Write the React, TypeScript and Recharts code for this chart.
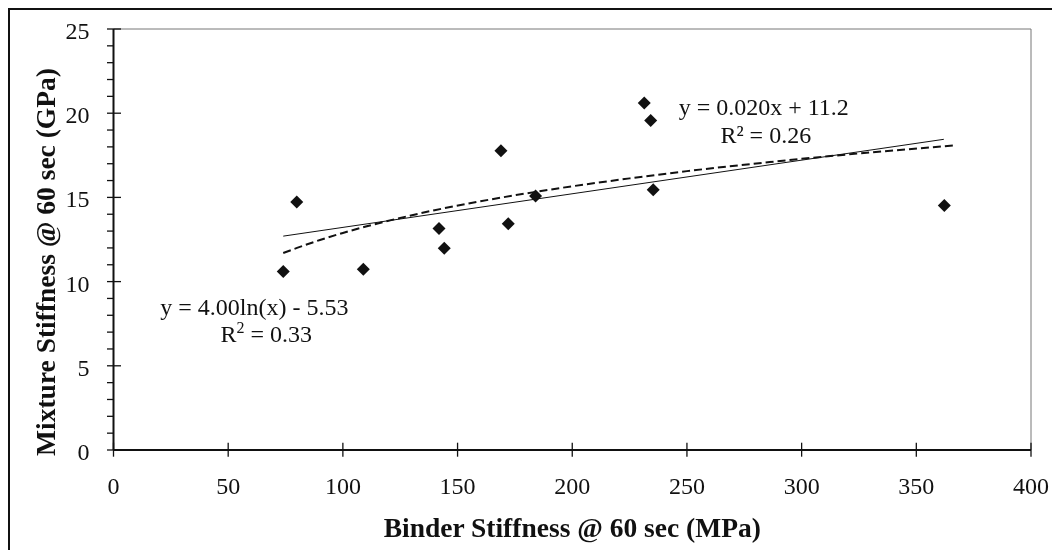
import React from "react";
import {
  ComposedChart,
  Scatter,
  Line,
  XAxis,
  YAxis,
  ReferenceLine,
  ReferenceDot,
  Label,
} from "recharts";

const FONT = '"Liberation Serif", "Times New Roman", serif';

// binder stiffness (MPa) vs mixture stiffness (GPa)
const BINDER = [74.0, 79.9, 108.9, 141.9, 144.2, 168.9, 172.1, 184.0, 231.4, 234.2, 235.3, 362.2];
const MIXTURE = [10.6, 14.72, 10.74, 13.15, 11.98, 17.77, 13.43, 15.09, 20.6, 19.57, 15.45, 14.52];

// linear trend end points
const LIN_X = [74, 362];
const LIN_Y = [12.7, 18.45];

// log trend, points
const LOG_X = [74, 80, 90, 100, 110, 125, 140, 160, 180, 200, 225, 250, 275, 300, 330, 366];
const LOG_Y = [11.7, 12.0, 12.47, 12.89, 13.27, 13.78, 14.24, 14.77, 15.24, 15.66, 16.13, 16.56, 16.94, 17.29, 17.67, 18.08];

const X_TICKS = [0, 50, 100, 150, 200, 250, 300, 350, 400];
const Y_TICKS = [0, 1, 2, 3, 4, 5, 6, 7, 8, 9, 10, 11, 12, 13, 14, 15, 16, 17, 18, 19, 20, 21, 22, 23, 24, 25];

const points = BINDER.map((x, i) => ({ x, y: MIXTURE[i] }));
const linData = LIN_X.map((x, i) => ({ x, y: LIN_Y[i] }));
const logData = LOG_X.map((x, i) => ({ x, y: LOG_Y[i] }));

const Diamond = (props: any) => {
  const { cx, cy } = props;
  const r = 6.5;
  return (
    <polygon
      points={`${cx},${cy - r} ${cx + r},${cy} ${cx},${cy + r} ${cx - r},${cy}`}
      fill="#111"
    />
  );
};

const YTick = (props: any) => {
  const { x, y, payload } = props;
  const major = payload.value % 5 === 0;
  return (
    <g>
      <line x1={x - 6.5} x2={major ? x + 7.5 : x} y1={y} y2={y} stroke="#111" strokeWidth={1.3} />
      {major && (
        <text x={x - 24} y={y + 10} textAnchor="end" fontFamily={FONT} fontSize={24} fill="#111">
          {payload.value}
        </text>
      )}
    </g>
  );
};

const XTick = (props: any) => {
  const { x, y, payload } = props;
  return (
    <g>
      <line x1={x} x2={x} y1={y - 7.3} y2={y + 6.7} stroke="#111" strokeWidth={1.3} />
      <text x={x} y={y + 44} textAnchor="middle" fontFamily={FONT} fontSize={24} fill="#111">
        {payload.value}
      </text>
    </g>
  );
};

const XTitle = (props: any) => {
  const { x, y, width } = props.viewBox;
  return (
    <text x={x + width / 2} y={y + 87} textAnchor="middle" fontFamily={FONT} fontSize={27.5} fontWeight="bold" fill="#111">
      Binder Stiffness @ 60 sec (MPa)
    </text>
  );
};

const YTitle = (props: any) => {
  const { y, height } = props.viewBox;
  const cx = 47;
  const cy = y + height / 2 + 22.5;
  return (
    <text
      x={cx}
      y={cy}
      transform={`rotate(-90 ${cx} ${cy})`}
      textAnchor="middle"
      fontFamily={FONT}
      fontSize={27.5}
      fontWeight="bold"
      fill="#111"
    >
      Mixture Stiffness @ 60 sec (GPa)
    </text>
  );
};

const LinEq = (props: any) => {
  const { x, y } = props.viewBox;
  return (
    <g fontFamily={FONT} fontSize={24} fill="#111">
      <text x={x} y={y} textAnchor="middle">y = 0.020x + 11.2</text>
      <text x={x + 2} y={y + 28} textAnchor="middle">R² = 0.26</text>
    </g>
  );
};

const LogEq = (props: any) => {
  const { x, y } = props.viewBox;
  return (
    <g fontFamily={FONT} fontSize={24} fill="#111">
      <text x={x} y={y} textAnchor="middle">y = 4.00ln(x) - 5.53</text>
      <text x={x + 12} y={y + 27} textAnchor="middle">
        R<tspan fontSize={16} dy={-9}>2</tspan>
        <tspan dy={9}> = 0.33</tspan>
      </text>
    </g>
  );
};

export default function App() {
  // fixed so the oversized frame does not make the page scroll
  return (
    <div style={{ position: "fixed", left: 8, top: 8, width: 1044, height: 542 }}>
      <ComposedChart
        width={1044}
        height={542}
        margin={{ top: 21, right: 21, left: 0, bottom: 0 }}
      >
        <XAxis
          type="number"
          dataKey="x"
          domain={[0, 400]}
          ticks={X_TICKS}
          interval={0}
          height={100}
          tickSize={0}
          tickMargin={0}
          tickLine={false}
          tick={<XTick />}
          axisLine={{ stroke: "#111", strokeWidth: 2 }}
          label={<Label content={<XTitle />} />}
        />
        <YAxis
          type="number"
          dataKey="y"
          domain={[0, 25]}
          ticks={Y_TICKS}
          interval={0}
          width={105.5}
          tickSize={0}
          tickMargin={0}
          tickLine={false}
          tick={<YTick />}
          axisLine={{ stroke: "#111", strokeWidth: 2 }}
          label={<Label content={<YTitle />} />}
        />
        <ReferenceLine y={25} stroke="#777" strokeWidth={1} />
        <ReferenceLine x={400} stroke="#777" strokeWidth={1} />
        <Line
          data={linData}
          dataKey="y"
          type="linear"
          stroke="#111"
          strokeWidth={1}
          dot={false}
          activeDot={false}
          isAnimationActive={false}
        />
        <Line
          data={logData}
          dataKey="y"
          type="monotone"
          stroke="#111"
          strokeWidth={2}
          strokeDasharray="8 4"
          dot={false}
          activeDot={false}
          isAnimationActive={false}
        />
        <Scatter data={points} dataKey="y" shape={<Diamond />} isAnimationActive={false} />
        <ReferenceDot x={283.5} y={19.9} r={0} fill="none" stroke="none" label={<Label content={<LinEq />} />} />
        <ReferenceDot x={61.4} y={8.02} r={0} fill="none" stroke="none" label={<Label content={<LogEq />} />} />
      </ComposedChart>
      <div
        style={{
          position: "absolute",
          left: 0,
          top: 0,
          width: 1044,
          height: 542,
          boxSizing: "border-box",
          borderTop: "2px solid #111",
          borderLeft: "2px solid #111",
          pointerEvents: "none",
        }}
      />
    </div>
  );
}
